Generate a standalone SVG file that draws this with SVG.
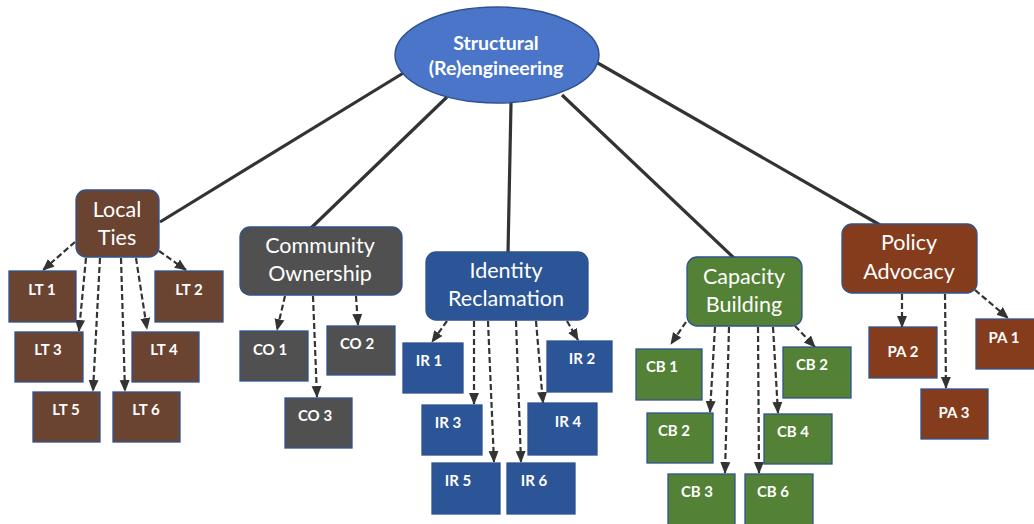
<svg xmlns="http://www.w3.org/2000/svg" width="1034" height="524" viewBox="0 0 1034 524">
<defs>
<marker id="ah" markerUnits="userSpaceOnUse" markerWidth="12" markerHeight="12" viewBox="0 0 12 12" refX="11" refY="6" orient="auto">
<path d="M0,1 L12,6 L0,11 Z" fill="#333"/>
</marker>
<style>
.main{stroke:#333;stroke-width:3.2;fill:none}
.dash{stroke:#333;stroke-width:2.2;stroke-dasharray:6 3;fill:none;marker-end:url(#ah)}
.box{stroke:#2f528f;stroke-width:1.3}
.pt{font-family:Lato,"Open Sans",sans-serif;font-size:21.5px;fill:#fff;text-anchor:middle}
.rt{font-family:Lato,"Open Sans",sans-serif;font-size:19.5px;font-weight:bold;fill:#fff;text-anchor:middle}
.ct{font-family:Lato,"Open Sans",sans-serif;font-size:15px;font-weight:bold;fill:#fff;text-anchor:middle}
.lt{fill:#6b4431}
.co{fill:#505050}
.ir{fill:#2c5597}
.cb{fill:#538135}
.pa{fill:#843c1c}
</style>
</defs>
<rect width="1034" height="524" fill="#fff"/>
<g id="connectors">
<line class="main" x1="160" y1="222" x2="405" y2="72"/>
<line class="main" x1="310" y1="229" x2="447" y2="97"/>
<line class="main" x1="508" y1="253" x2="511" y2="103"/>
<line class="main" x1="734" y1="258" x2="562" y2="95"/>
<line class="main" x1="880" y1="225" x2="596" y2="62"/>
<line class="dash" x1="75" y1="242" x2="43" y2="270"/>
<line class="dash" x1="86" y1="258" x2="79" y2="331"/>
<line class="dash" x1="100" y1="258" x2="93" y2="391"/>
<line class="dash" x1="121" y1="258" x2="125" y2="391"/>
<line class="dash" x1="136" y1="258" x2="147" y2="329"/>
<line class="dash" x1="159" y1="251" x2="186" y2="270"/>
<line class="dash" x1="285" y1="296" x2="277" y2="330"/>
<line class="dash" x1="313" y1="296" x2="317" y2="397"/>
<line class="dash" x1="356" y1="296" x2="358" y2="325"/>
<line class="dash" x1="447" y1="321" x2="432" y2="342"/>
<line class="dash" x1="474" y1="321" x2="474" y2="404"/>
<line class="dash" x1="488" y1="321" x2="494" y2="462"/>
<line class="dash" x1="516" y1="321" x2="521" y2="462"/>
<line class="dash" x1="536" y1="321" x2="543" y2="403"/>
<line class="dash" x1="567" y1="321" x2="578" y2="340"/>
<line class="dash" x1="686" y1="322" x2="671" y2="344"/>
<line class="dash" x1="715" y1="327" x2="710" y2="412"/>
<line class="dash" x1="729" y1="327" x2="725" y2="473"/>
<line class="dash" x1="758" y1="327" x2="759" y2="473"/>
<line class="dash" x1="773" y1="327" x2="778" y2="413"/>
<line class="dash" x1="795" y1="326" x2="815" y2="347"/>
<line class="dash" x1="902" y1="294" x2="902" y2="327"/>
<line class="dash" x1="945" y1="294" x2="946" y2="388"/>
<line class="dash" x1="975" y1="290" x2="1008" y2="318"/>
</g>
<g id="root">
<ellipse cx="497" cy="55" rx="102" ry="48" fill="#4a75c8" stroke="#2f528f" stroke-width="1.5"/>
<text class="rt" x="496" y="50">Structural</text>
<text class="rt" x="496" y="75">(Re)engineering</text>
</g>
<g id="local-ties">
<rect class="box lt" x="76" y="190" width="83" height="67" rx="10"/>
<text class="pt" x="117" y="217">Local</text>
<text class="pt" x="117" y="245">Ties</text>
</g>
<g id="lt1"><rect class="box lt" x="9" y="271" width="67" height="51"/><text class="ct" x="42" y="295">LT 1</text></g>
<g id="lt2"><rect class="box lt" x="155" y="271" width="68" height="51"/><text class="ct" x="189" y="295">LT 2</text></g>
<g id="lt3"><rect class="box lt" x="15" y="332" width="68" height="50"/><text class="ct" x="48" y="355">LT 3</text></g>
<g id="lt4"><rect class="box lt" x="132" y="332" width="67" height="50"/><text class="ct" x="164" y="355">LT 4</text></g>
<g id="lt5"><rect class="box lt" x="33" y="392" width="67" height="50"/><text class="ct" x="66" y="415">LT 5</text></g>
<g id="lt6"><rect class="box lt" x="113" y="392" width="67" height="50"/><text class="ct" x="146" y="415">LT 6</text></g>
<g id="community-ownership">
<rect class="box co" x="240" y="227" width="162" height="68" rx="10"/>
<text class="pt" x="320" y="253">Community</text>
<text class="pt" x="320" y="281">Ownership</text>
</g>
<g id="co1"><rect class="box co" x="240" y="331" width="68" height="50"/><text class="ct" x="270" y="355">CO 1</text></g>
<g id="co2"><rect class="box co" x="327" y="326" width="68" height="49"/><text class="ct" x="357" y="349">CO 2</text></g>
<g id="co3"><rect class="box co" x="285" y="398" width="67" height="50"/><text class="ct" x="315" y="421">CO 3</text></g>
<g id="identity-reclamation">
<rect class="box ir" x="426" y="252" width="162" height="68" rx="10"/>
<text class="pt" x="506" y="278">Identity</text>
<text class="pt" x="506" y="306">Reclamation</text>
</g>
<g id="ir1"><rect class="box ir" x="403" y="343" width="60" height="50"/><text class="ct" x="429" y="366">IR 1</text></g>
<g id="ir2"><rect class="box ir" x="547" y="341" width="65" height="51"/><text class="ct" x="582" y="364">IR 2</text></g>
<g id="ir3"><rect class="box ir" x="422" y="405" width="60" height="50"/><text class="ct" x="448" y="428">IR 3</text></g>
<g id="ir4"><rect class="box ir" x="528" y="403" width="69" height="52"/><text class="ct" x="568" y="427">IR 4</text></g>
<g id="ir5"><rect class="box ir" x="432" y="463" width="68" height="51"/><text class="ct" x="458" y="486">IR 5</text></g>
<g id="ir6"><rect class="box ir" x="507" y="463" width="68" height="51"/><text class="ct" x="534" y="486">IR 6</text></g>
<g id="capacity-building">
<rect class="box cb" x="687" y="257" width="115" height="69" rx="10"/>
<text class="pt" x="744" y="284">Capacity</text>
<text class="pt" x="744" y="312">Building</text>
</g>
<g id="cb1"><rect class="box cb" x="636" y="349" width="66" height="51"/><text class="ct" x="662" y="372">CB 1</text></g>
<g id="cb2a"><rect class="box cb" x="783" y="347" width="68" height="51"/><text class="ct" x="812" y="370">CB 2</text></g>
<g id="cb2b"><rect class="box cb" x="647" y="413" width="66" height="50"/><text class="ct" x="674" y="436">CB 2</text></g>
<g id="cb4"><rect class="box cb" x="764" y="414" width="68" height="50"/><text class="ct" x="793" y="437">CB 4</text></g>
<g id="cb3"><rect class="box cb" x="668" y="474" width="67" height="52"/><text class="ct" x="697" y="497">CB 3</text></g>
<g id="cb6"><rect class="box cb" x="745" y="474" width="68" height="52"/><text class="ct" x="773" y="497">CB 6</text></g>
<g id="policy-advocacy">
<rect class="box pa" x="842" y="224" width="135" height="69" rx="10"/>
<text class="pt" x="909" y="250">Policy</text>
<text class="pt" x="909" y="279">Advocacy</text>
</g>
<g id="pa1"><rect class="box pa" x="976" y="319" width="60" height="50"/><text class="ct" x="1004" y="343">PA 1</text></g>
<g id="pa2"><rect class="box pa" x="869" y="327" width="68" height="51"/><text class="ct" x="903" y="357">PA 2</text></g>
<g id="pa3"><rect class="box pa" x="921" y="389" width="67" height="50"/><text class="ct" x="954" y="418">PA 3</text></g>
</svg>
